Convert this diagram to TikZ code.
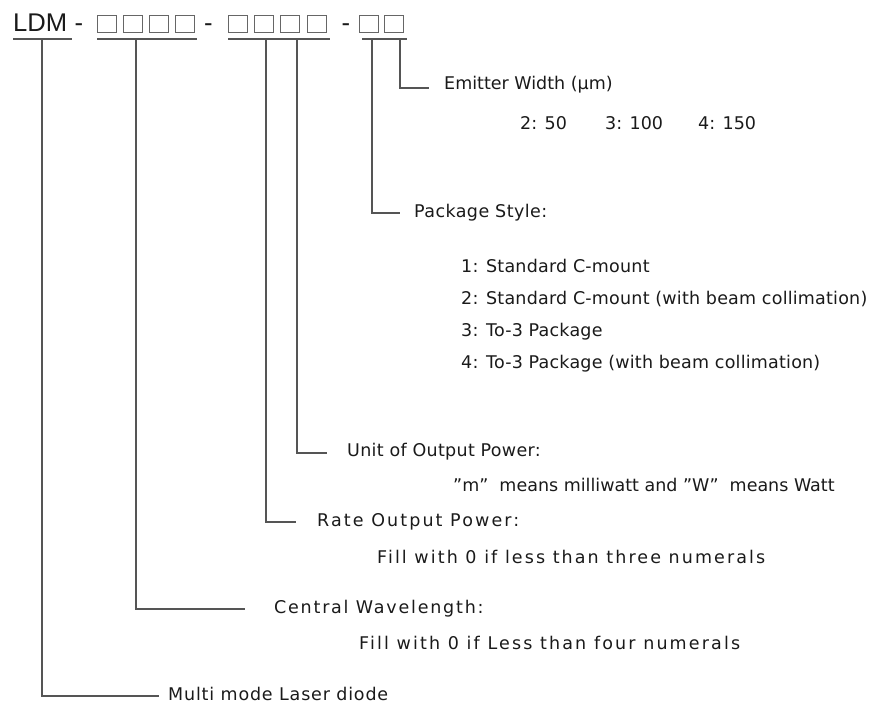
\documentclass[tikz,border=0pt]{standalone}
\usepackage{fontspec}
\setmainfont{DejaVu Sans}
\newfontfamily\ldmfont{Liberation Sans}
\definecolor{txt}{HTML}{1A1A1A}
\definecolor{linegray}{HTML}{555555}
\definecolor{boxgray}{HTML}{666666}
\begin{document}
\begin{tikzpicture}[x=1pt,y=-1pt,
  lbl/.style={anchor=west, inner sep=0pt, text=txt,
    font=\fontsize{17.5}{21}\selectfont, text height=13pt, text depth=4pt},
  spaced/.style={font=\fontsize{17.5}{21}\selectfont\addfontfeature{LetterSpace=#1}},
  ldm/.style={inner sep=0pt, text=txt, font=\ldmfont\fontsize{25.6}{30}\selectfont},
  conn/.style={draw=linegray, line width=1.4pt},
  uline/.style={draw=linegray, line width=1.6pt},
  digitbox/.style={draw=boxgray, line width=1pt}]
\useasboundingbox (0,0) rectangle (870,709);

% code line
\node[ldm, anchor=base west] (ldm) at (13,32) {LDM};
\node[ldm, anchor=base] (d1) at (79,32) {-};
\node[ldm, anchor=base] (d2) at (208.5,32) {-};
\node[ldm, anchor=base] (d3) at (346,32) {-};
\foreach \x in {107,133,159,185,238,264,290,317,369,394}
  \draw[digitbox] (\x-9.5,15.5) rectangle (\x+9.5,32.5);

% underlines
\draw[uline] (13,39) -- (72,39);
\draw[uline] (97,39) -- (197,39);
\draw[uline] (228,39) -- (330,39);
\draw[uline] (362,39) -- (407,39);

% connector start points on the underlines
\coordinate (sMulti) at (42,39);
\coordinate (sCent) at (136,39);
\coordinate (sRate) at (266,39);
\coordinate (sUnit) at (297,39);
\coordinate (sPack) at (372,39);
\coordinate (sEmit) at (400,39);
% connector ends
\coordinate (eMulti) at (159,696);
\coordinate (eCent) at (245,609);
\coordinate (eRate) at (296,522);
\coordinate (eUnit) at (327,453);
\coordinate (ePack) at (400,213);
\coordinate (eEmit) at (429,88);

\draw[conn] (sMulti) |- (eMulti);
\draw[conn] (sCent) |- (eCent);
\draw[conn] (sRate) |- (eRate);
\draw[conn] (sUnit) |- (eUnit);
\draw[conn] (sPack) |- (ePack);
\draw[conn] (sEmit) |- (eEmit);

% labels
\node[lbl] (emit) at (444,85) {Emitter Width (µm)};
\node[lbl] (ew1) at (520,125) {2: 50};
\node[lbl] (ew2) at (605,125) {3: 100};
\node[lbl] (ew3) at (698,125) {4: 150};

\node[lbl, spaced=2.4] (pack) at (414,213) {Package Style:};
\node[lbl, spaced=1.2] (p1) at (461,268) {1: Standard C-mount};
\node[lbl, spaced=1.2] (p2) at (461,300) {2: Standard C-mount (with beam collimation)};
\node[lbl, spaced=1.2] (p3) at (461,332) {3: To-3 Package};
\node[lbl, spaced=1.2] (p4) at (461,364) {4: To-3 Package (with beam collimation)};

\node[lbl, spaced=1.7] (unit) at (347,452) {Unit of Output Power:};
\node[lbl] (unitd) at (453,487) {”m”\ \ means milliwatt and ”W”\ \ means Watt};

\node[lbl, spaced=12] (rate) at (317,522) {Rate Output Power:};
\node[lbl, spaced=11.9] (rated) at (377,559) {Fill with 0 if less than three numerals};

\node[lbl, spaced=10.2] (cent) at (274,609) {Central Wavelength:};
\node[lbl, spaced=12.2] (centd) at (359,645) {Fill with 0 if Less than four numerals};

\node[lbl, spaced=4.7] (multi) at (168,696) {Multi mode Laser diode};
\end{tikzpicture}
\end{document}
